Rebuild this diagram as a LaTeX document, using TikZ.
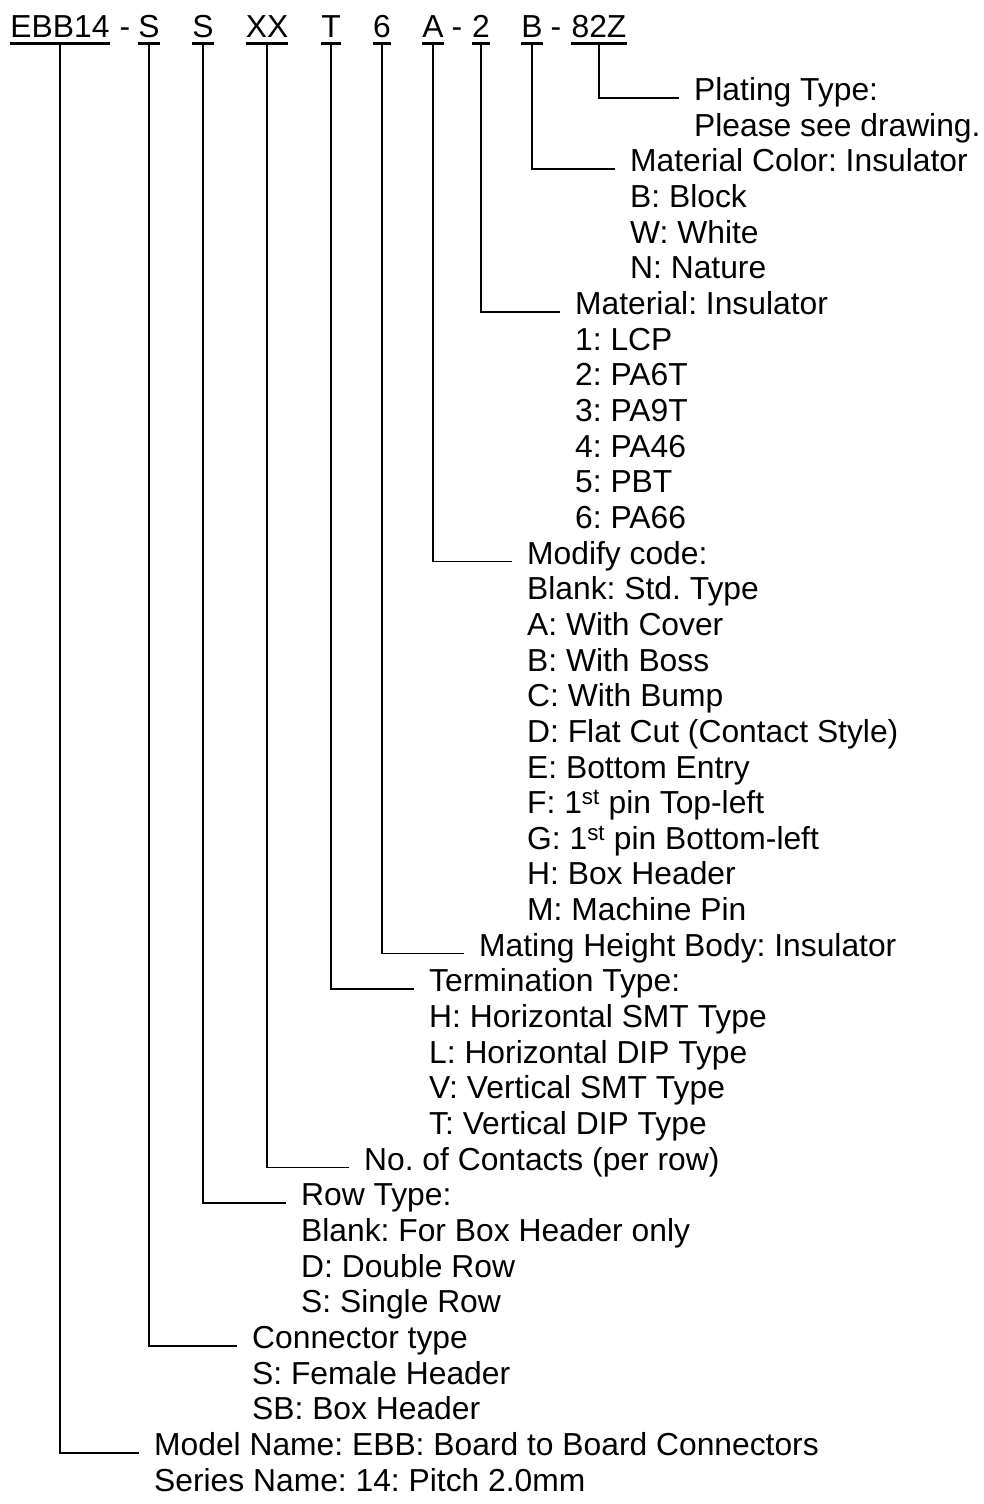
\documentclass[tikz,border=0pt]{standalone}
\usepackage{fontspec}
\setmainfont{Liberation Sans}

\tikzset{
  x=1pt, y=-1pt,
  fieldtxt/.style={inner xsep=0pt, inner ysep=5pt, text depth=0pt, anchor=base,
    font=\fontsize{31.8}{35.65}\selectfont},
  desctxt/.style={inner sep=0pt, anchor=mid west,
    font=\fontsize{31.8}{35.65}\selectfont\frenchspacing},
  leadline/.style={line width=1.7pt},
  uline/.style={line width=2.8pt}
}

\begin{document}
\begin{tikzpicture}
        \useasboundingbox (0,0) rectangle (983,1504);

        % Row pitch of the description lines
        \def\dy{35.65}

        % Draw the part number fields
        \node[fieldtxt] (fEBB) at (60,38) {EBB14};
        \node[fieldtxt] (d1) at (125,38) {-};
        \node[fieldtxt] (fS) at (149,38) {S};
        \node[fieldtxt] (fSS) at (203,38) {S};
        \node[fieldtxt] (fXX) at (267,38) {XX};
        \node[fieldtxt] (fT) at (331,38) {T};
        \node[fieldtxt] (f6) at (382,38) {6};
        \node[fieldtxt] (fA) at (433,38) {A};
        \node[fieldtxt] (d2) at (457,38) {-};
        \node[fieldtxt] (f2) at (481,38) {2};
        \node[fieldtxt] (fB) at (532,38) {B};
        \node[fieldtxt] (d3) at (556,38) {-};
        \node[fieldtxt] (f82) at (599,38) {82Z};

        % Underline the fields
        \foreach \f in {fEBB,fS,fSS,fXX,fT,f6,fA,f2,fB,f82}
          \draw[uline] (\f.south west) -- (\f.south east);

        % Draw the descriptions
        \node[desctxt] (plat) at (694,98) {Plating Type:};
        \node[desctxt] (plat1) at (694,{98+\dy}) {Please see drawing.};

        \node[desctxt] (mcol) at (630,{98+2*\dy}) {Material Color: Insulator};
        \foreach \t [count=\i] in {B: Block,W: White,N: Nature}
          \node[desctxt] (mcol\i) at (630,{98+(2+\i)*\dy}) {\t};

        \node[desctxt] (mat) at (575,{98+6*\dy}) {Material: Insulator};
        \foreach \t [count=\i] in {1: LCP,2: PA6T,3: PA9T,4: PA46,5: PBT,6: PA66}
          \node[desctxt] (mat\i) at (575,{98+(6+\i)*\dy}) {\t};

        \node[desctxt] (mod) at (527,{98+13*\dy}) {Modify code:};
        \foreach \t [count=\i] in {Blank: Std. Type,A: With Cover,B: With Boss,C: With Bump,
            D: Flat Cut (Contact Style),E: Bottom Entry,F: 1\textsuperscript{st} pin Top-left,
            G: 1\textsuperscript{st} pin Bottom-left,H: Box Header,M: Machine Pin}
          \node[desctxt] (mod\i) at (527,{98+(13+\i)*\dy}) {\t};

        \node[desctxt] (mate) at (479,{98+24*\dy}) {Mating Height Body: Insulator};

        \node[desctxt] (term) at (429,{98+25*\dy}) {Termination Type:};
        \foreach \t [count=\i] in {H: Horizontal SMT Type,L: Horizontal DIP Type,
            V: Vertical SMT Type,T: Vertical DIP Type}
          \node[desctxt] (term\i) at (429,{98+(25+\i)*\dy}) {\t};

        \node[desctxt] (cont) at (364,{98+30*\dy}) {No. of Contacts (per row)};

        \node[desctxt] (row) at (301,{98+31*\dy}) {Row Type:};
        \foreach \t [count=\i] in {Blank: For Box Header only,D: Double Row,S: Single Row}
          \node[desctxt] (row\i) at (301,{98+(31+\i)*\dy}) {\t};

        \node[desctxt] (conn) at (252,{98+35*\dy}) {Connector type};
        \foreach \t [count=\i] in {S: Female Header,SB: Box Header}
          \node[desctxt] (conn\i) at (252,{98+(35+\i)*\dy}) {\t};

        \node[desctxt] (model) at (154,{98+38*\dy}) {Model Name: EBB: Board to Board Connectors};
        \node[desctxt] (model1) at (154,{98+39*\dy}) {Series Name: 14: Pitch 2.0mm};

        % Draw the leader lines
        \draw[leadline] (f82.south) |- ([xshift=-15pt]plat.mid west);
        \draw[leadline] (fB.south) |- ([xshift=-15pt]mcol.mid west);
        \draw[leadline] (f2.south) |- ([xshift=-15pt]mat.mid west);
        \draw[leadline] (fA.south) |- ([xshift=-15pt]mod.mid west);
        \draw[leadline] (f6.south) |- ([xshift=-15pt]mate.mid west);
        \draw[leadline] (fT.south) |- ([xshift=-15pt]term.mid west);
        \draw[leadline] (fXX.south) |- ([xshift=-15pt]cont.mid west);
        \draw[leadline] (fSS.south) |- ([xshift=-15pt]row.mid west);
        \draw[leadline] (fS.south) |- ([xshift=-15pt]conn.mid west);
        \draw[leadline] (fEBB.south) |- ([xshift=-15pt]model.mid west);

    \end{tikzpicture}
\end{document}
